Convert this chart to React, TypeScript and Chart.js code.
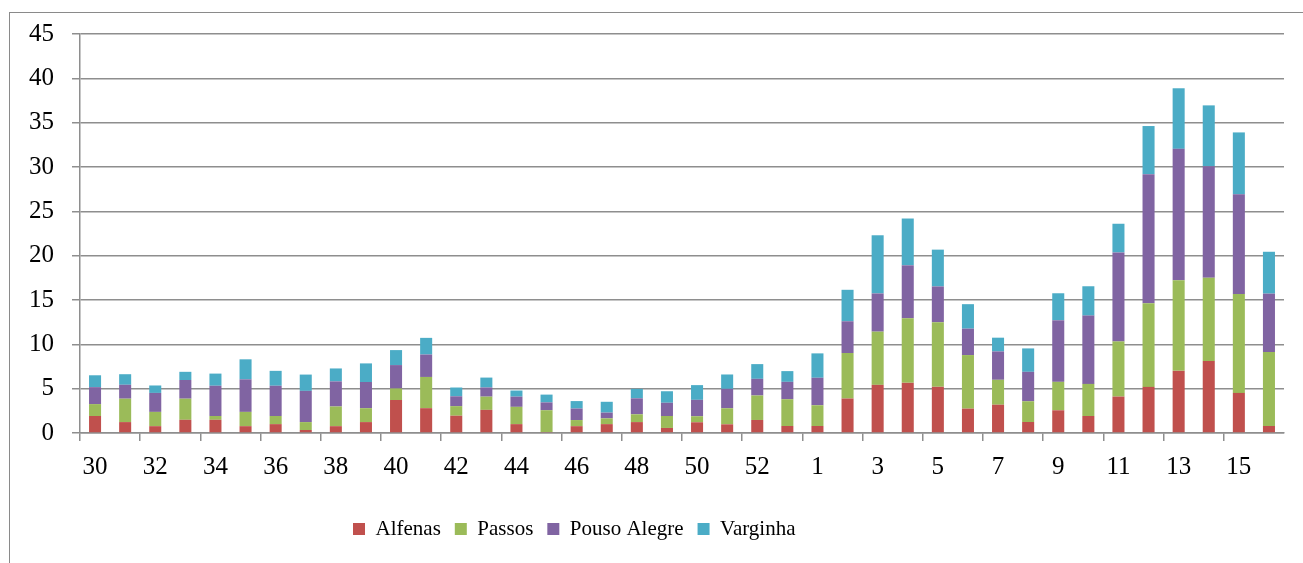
import { useEffect, useRef } from 'react';
import { Chart, registerables } from 'chart.js';

Chart.register(...registerables);

const weeks = [
  '30', '31', '32', '33', '34', '35', '36', '37', '38', '39', '40', '41', '42', '43', '44', '45',
  '46', '47', '48', '49', '50', '51', '52', '53',
  '1', '2', '3', '4', '5', '6', '7', '8', '9', '10', '11', '12', '13', '14', '15', '16',
];

const alfenas = [
  1.92, 1.23, 0.77, 1.49, 1.49, 0.77, 1.0, 0.34, 0.77, 1.23, 3.72, 2.8, 1.95, 2.61, 1.0, 0.11,
  0.77, 1.0, 1.23, 0.57, 1.21, 0.98, 1.47, 0.79,
  0.79, 3.89, 5.43, 5.66, 5.21, 2.75, 3.19, 1.24, 2.56, 1.92, 4.11, 5.2, 7.01, 8.11, 4.52, 0.79,
];

const passos = [
  1.34, 2.64, 1.61, 2.38, 0.43, 1.61, 0.92, 0.89, 2.22, 1.57, 1.3, 3.52, 1.08, 1.49, 1.95, 2.46,
  0.69, 0.65, 0.88, 1.35, 0.68, 1.81, 2.76, 3.02,
  2.34, 5.13, 6.0, 7.28, 7.28, 6.04, 2.81, 2.34, 3.21, 3.62, 6.22, 9.43, 10.22, 9.39, 11.17, 8.34,
];

const pousoAlegre = [
  1.91, 1.57, 2.14, 2.11, 3.41, 3.67, 3.41, 3.52, 2.83, 2.95, 2.64, 2.53, 1.11, 1.03, 1.15, 0.88,
  1.3, 0.65, 1.8, 1.49, 1.85, 2.19, 1.88, 1.96,
  3.1, 3.58, 4.31, 5.97, 4.04, 2.98, 3.2, 3.32, 6.94, 7.7, 10.03, 14.56, 14.82, 12.59, 11.23, 6.59,
];

const varginha = [
  1.34, 1.19, 0.84, 0.92, 1.37, 2.26, 1.68, 1.84, 1.46, 2.1, 1.69, 1.88, 0.99, 1.12, 0.69, 0.88,
  0.84, 1.22, 1.07, 1.3, 1.66, 1.62, 1.66, 1.21,
  2.75, 3.55, 6.56, 5.28, 4.15, 2.76, 1.55, 2.64, 3.05, 3.31, 3.24, 5.43, 6.83, 6.86, 6.98, 4.72,
];

const seriesNames = ['Alfenas', 'Passos', 'Pouso Alegre', 'Varginha'];
const seriesColors = ['#C0504D', '#9BBB59', '#8064A2', '#4BACC6'];
const yTicksMax = 45;
const yTicksStep = 5;

export default function App() {
  const ref = useRef<HTMLCanvasElement>(null);

  useEffect(() => {
    const canvas = ref.current;
    if (!canvas) return;
    const gray = '#8e8e8e';
    const family = '"Liberation Serif", "Times New Roman", serif';

    const legendPlace = {
      id: 'legendPlace',
      afterLayout(chart: any) {
        const lg = chart.legend;
        if (!lg) return;
        const pad = lg.options.labels.padding;
        const w = lg.width;
        const h = lg.height;
        lg.left = 353 - pad;
        lg.right = lg.left + w;
        lg.top = 518.5 - pad;
        lg.bottom = lg.top + h;
      },
    };

    const values = [alfenas, passos, pousoAlegre, varginha];
    const chart = new Chart(canvas, {
      type: 'bar',
      data: {
        labels: weeks,
        datasets: seriesNames.map((name, i) => ({
          label: name,
          data: values[i],
          backgroundColor: seriesColors[i],
          borderWidth: 0,
          barPercentage: 0.4,
          categoryPercentage: 1,
        })),
      },
      options: {
        responsive: false,
        animation: false,
        devicePixelRatio: 1,
        layout: { padding: { left: 0, right: 19, top: 34, bottom: 25 } },
        plugins: {
          legend: {
            position: 'bottom',
            align: 'start',
            labels: {
              boxWidth: 12,
              boxHeight: 12,
              padding: 14,
              color: '#000',
              font: { family, size: 21 },
            },
          },
          tooltip: { enabled: false },
        },
        scales: {
          x: {
            stacked: true,
            offset: true,
            grid: {
              offset: true,
              drawOnChartArea: false,
              drawTicks: true,
              tickLength: 8,
              lineWidth: 1.5,
              color: (ctx: any) => (ctx.index % 2 === 0 ? gray : 'rgba(0,0,0,0)'),
            },
            border: { display: true, color: gray, width: 1.5 },
            ticks: {
              autoSkip: false,
              maxRotation: 0,
              minRotation: 0,
              padding: 11,
              color: '#000',
              font: { family, size: 25 },
              callback: (_v: any, i: number) => (i % 2 === 0 ? weeks[i] : ''),
            },
          },
          y: {
            stacked: true,
            min: 0,
            max: yTicksMax,
            afterFit: (scale: any) => {
              scale.width = 80;
            },
            grid: {
              color: gray,
              lineWidth: 1.5,
              tickLength: 8,
            },
            border: { display: true, color: gray, width: 1.5 },
            ticks: {
              stepSize: yTicksStep,
              padding: 18,
              color: '#000',
              font: { family, size: 25 },
            },
          },
        },
      },
      plugins: [legendPlace],
    } as any);

    return () => chart.destroy();
  }, []);

  return (
    <div
      style={{
        position: 'fixed',
        left: 0,
        top: 0,
        width: 1303,
        height: 563,
        overflow: 'hidden',
        background: '#fff',
      }}
    >
      <div
        style={{
          position: 'absolute',
          left: 9,
          top: 12,
          width: 1400,
          height: 700,
          border: '1px solid #8a8a8a',
        }}
      />
      <canvas
        ref={ref}
        width={1303}
        height={563}
        style={{ position: 'absolute', left: 0, top: 0, width: 1303, height: 563 }}
      />
    </div>
  );
}
